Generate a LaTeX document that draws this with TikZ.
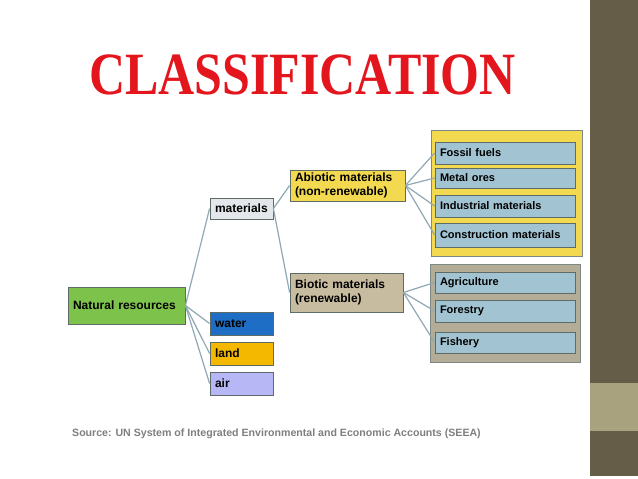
\documentclass[tikz,border=0pt]{standalone}
\usepackage{graphicx}
\usepackage{fontspec}
\setmainfont{Liberation Sans}
\newfontfamily\titlefont{Liberation Serif}
\usetikzlibrary{shadows}

\definecolor{titlered}{HTML}{E3161D}
\definecolor{edgegray}{HTML}{5E6B66}
\definecolor{linkblue}{HTML}{8FA8B4}
\definecolor{natgreen}{HTML}{7DC24B}
\definecolor{matgray}{HTML}{E3E7EC}
\definecolor{waterblue}{HTML}{1E6EC6}
\definecolor{landorange}{HTML}{F5B800}
\definecolor{airlilac}{HTML}{B7B7F6}
\definecolor{abioyellow}{HTML}{F3D94F}
\definecolor{bioticbrown}{HTML}{C8BCA0}
\definecolor{groupgray}{HTML}{B3AC97}
\definecolor{leafblue}{HTML}{A2C4D2}
\definecolor{barbrown}{HTML}{665D48}
\definecolor{barlight}{HTML}{A8A37E}
\definecolor{sourcegray}{HTML}{7F7F7F}

\begin{document}
\begin{tikzpicture}[x=1pt, y=-1pt,
  box/.style={draw=edgegray, line width=0.8pt, inner xsep=5pt, inner ysep=2pt,
    align=left, drop shadow={shadow xshift=1pt, shadow yshift=-1pt, opacity=0.35},
    font=\bfseries\fontsize{12}{13.5}\selectfont},
  leaf/.style={box, fill=leafblue, text width=130pt, font=\bfseries\fontsize{11}{12}\selectfont},
  group/.style={draw=edgegray!80, line width=1pt, inner sep=0pt},
  link/.style={draw=linkblue, line width=1.2pt}]

  \useasboundingbox (0,0) rectangle (638,479);
  \fill[white] (0,0) rectangle (638,479);

  % side bar
  \fill[barbrown] (590,0) rectangle (638,476);
  \fill[barlight] (590,383) rectangle (638,431);

  % title
  \node (title) [text=titlered, inner sep=0pt] at (302.5,75)
    {\titlefont\bfseries\fontsize{50}{50}\selectfont\scalebox{1}[1.2]{CLASSIFICATION}};

  % first level
  \node (natres) [box, fill=natgreen, text width=107pt, minimum height=37pt] at (126.5,305.5) {Natural resources};
  \node (materials) [box, fill=matgray, text width=53pt, minimum height=21pt] at (241.5,208.5) {materials};
  \node (water) [box, fill=waterblue, text width=53pt, minimum height=23pt] at (241.5,323.5) {water};
  \node (land) [box, fill=landorange, text width=53pt, minimum height=23pt] at (241.5,353.5) {land};
  \node (air) [box, fill=airlilac, text width=53pt, minimum height=23pt] at (241.5,383.5) {air};

  % second level
  \node (abiotic) [box, fill=abioyellow, text width=105pt, minimum height=31pt] at (347.5,185.5) {Abiotic materials\\(non-renewable)};
  \node (biotic) [box, fill=bioticbrown, text width=103pt, minimum height=39pt] at (346.5,292.5) {Biotic materials\\(renewable)};

  % groups of leaves
  \node (abioticgroup) [group, fill=abioyellow, minimum width=151pt, minimum height=126pt] at (506.5,193) {};
  \node (bioticgroup) [group, fill=groupgray, minimum width=150pt, minimum height=98pt] at (505,313) {};

  \node (fossil) [leaf, minimum height=22pt] at (505,153) {Fossil fuels};
  \node (metal) [leaf, minimum height=20pt] at (505,178) {Metal ores};
  \node (industrial) [leaf, minimum height=22pt] at (505,206) {Industrial materials};
  \node (construction) [leaf, minimum height=24pt] at (505,235) {Construction materials};
  \node (agriculture) [leaf, minimum height=21pt] at (505,282.5) {Agriculture};
  \node (forestry) [leaf, minimum height=22pt] at (505,311) {Forestry};
  \node (fishery) [leaf, minimum height=21pt] at (505,342.5) {Fishery};

  % connectors
  \draw [link] (natres.east) -- (materials.west);
  \draw [link] (natres.east) -- (water.west);
  \draw [link] (natres.east) -- (land.west);
  \draw [link] (natres.east) -- (air.west);
  \draw [link] (materials.east) -- (abiotic.west);
  \draw [link] (materials.east) -- (biotic.west);
  \draw [link] (abiotic.east) -- (fossil.west);
  \draw [link] (abiotic.east) -- (metal.west);
  \draw [link] (abiotic.east) -- (industrial.west);
  \draw [link] (abiotic.east) -- (construction.west);
  \draw [link] (biotic.east) -- (agriculture.west);
  \draw [link] (biotic.east) -- (forestry.west);
  \draw [link] (biotic.east) -- (fishery.west);

  % source line
  \node (source) [anchor=west, text=sourcegray, inner sep=0pt,
    font=\bfseries\fontsize{10.6}{12}\selectfont] at (72,434)
    {Source: UN System of Integrated Environmental and Economic Accounts (SEEA)};
\end{tikzpicture}
\end{document}
